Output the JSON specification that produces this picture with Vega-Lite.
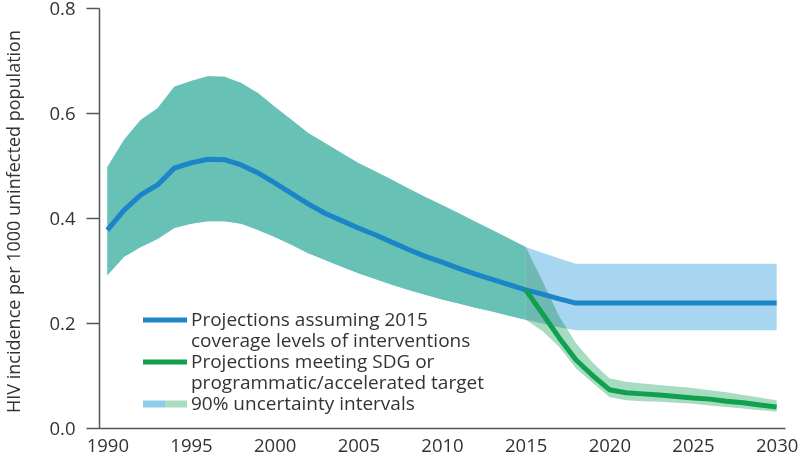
{
  "$schema": "https://vega.github.io/schema/vega-lite/v6.json",
  "width": 686,
  "height": 420,
  "autosize": {"type": "none"},
  "padding": {"left": 99, "top": 8, "right": 15, "bottom": 28},
  "background": "white",
  "config": {
    "view": {"stroke": null},
    "font": "Open Sans",
    "axis": {"grid": false, "domainColor": "#555", "domainWidth": 1.5, "tickColor": "#555", "tickWidth": 1.5, "labelColor": "#333", "titleColor": "#333", "labelFont": "Open Sans", "titleFont": "Open Sans", "labelFontSize": 18.5, "titleFontWeight": "normal"}
  },
  "datasets": {
    "proj": [
      {"year": 1990, "series": "current", "lo": 0.291, "hi": 0.497, "mid": 0.377},
      {"year": 1991, "series": "current", "lo": 0.326, "hi": 0.549, "mid": 0.415},
      {"year": 1992, "series": "current", "lo": 0.345, "hi": 0.587, "mid": 0.444},
      {"year": 1993, "series": "current", "lo": 0.360, "hi": 0.609, "mid": 0.463},
      {"year": 1994, "series": "current", "lo": 0.381, "hi": 0.650, "mid": 0.495},
      {"year": 1995, "series": "current", "lo": 0.389, "hi": 0.661, "mid": 0.505},
      {"year": 1996, "series": "current", "lo": 0.394, "hi": 0.670, "mid": 0.512},
      {"year": 1997, "series": "current", "lo": 0.394, "hi": 0.669, "mid": 0.511},
      {"year": 1998, "series": "current", "lo": 0.389, "hi": 0.657, "mid": 0.501},
      {"year": 1999, "series": "current", "lo": 0.377, "hi": 0.638, "mid": 0.486},
      {"year": 2000, "series": "current", "lo": 0.364, "hi": 0.612, "mid": 0.467},
      {"year": 2001, "series": "current", "lo": 0.349, "hi": 0.587, "mid": 0.447},
      {"year": 2002, "series": "current", "lo": 0.333, "hi": 0.562, "mid": 0.427},
      {"year": 2003, "series": "current", "lo": 0.320, "hi": 0.543, "mid": 0.409},
      {"year": 2004, "series": "current", "lo": 0.307, "hi": 0.524, "mid": 0.395},
      {"year": 2005, "series": "current", "lo": 0.295, "hi": 0.505, "mid": 0.381},
      {"year": 2006, "series": "current", "lo": 0.284, "hi": 0.489, "mid": 0.368},
      {"year": 2007, "series": "current", "lo": 0.273, "hi": 0.473, "mid": 0.354},
      {"year": 2008, "series": "current", "lo": 0.263, "hi": 0.456, "mid": 0.340},
      {"year": 2009, "series": "current", "lo": 0.254, "hi": 0.440, "mid": 0.327},
      {"year": 2010, "series": "current", "lo": 0.245, "hi": 0.425, "mid": 0.316},
      {"year": 2011, "series": "current", "lo": 0.237, "hi": 0.409, "mid": 0.304},
      {"year": 2012, "series": "current", "lo": 0.229, "hi": 0.393, "mid": 0.293},
      {"year": 2013, "series": "current", "lo": 0.222, "hi": 0.377, "mid": 0.283},
      {"year": 2014, "series": "current", "lo": 0.214, "hi": 0.361, "mid": 0.273},
      {"year": 2015, "series": "current", "lo": 0.206, "hi": 0.345, "mid": 0.263},
      {"year": 2016, "series": "current", "lo": 0.199, "hi": 0.334, "mid": 0.255},
      {"year": 2017, "series": "current", "lo": 0.192, "hi": 0.323, "mid": 0.246},
      {"year": 2018, "series": "current", "lo": 0.186, "hi": 0.313, "mid": 0.238},
      {"year": 2030, "series": "current", "lo": 0.186, "hi": 0.313, "mid": 0.238},
      {"year": 2015, "series": "target", "lo": 0.206, "hi": 0.345, "mid": 0.263},
      {"year": 2016, "series": "target", "lo": 0.185, "hi": 0.280, "mid": 0.218},
      {"year": 2017, "series": "target", "lo": 0.155, "hi": 0.213, "mid": 0.172},
      {"year": 2018, "series": "target", "lo": 0.114, "hi": 0.162, "mid": 0.130},
      {"year": 2019, "series": "target", "lo": 0.086, "hi": 0.125, "mid": 0.100},
      {"year": 2020, "series": "target", "lo": 0.059, "hi": 0.095, "mid": 0.073},
      {"year": 2021, "series": "target", "lo": 0.053, "hi": 0.088, "mid": 0.067},
      {"year": 2022, "series": "target", "lo": 0.051, "hi": 0.085, "mid": 0.065},
      {"year": 2023, "series": "target", "lo": 0.050, "hi": 0.082, "mid": 0.063},
      {"year": 2024, "series": "target", "lo": 0.048, "hi": 0.079, "mid": 0.060},
      {"year": 2025, "series": "target", "lo": 0.046, "hi": 0.076, "mid": 0.057},
      {"year": 2026, "series": "target", "lo": 0.043, "hi": 0.072, "mid": 0.055},
      {"year": 2027, "series": "target", "lo": 0.040, "hi": 0.068, "mid": 0.051},
      {"year": 2028, "series": "target", "lo": 0.037, "hi": 0.063, "mid": 0.048},
      {"year": 2029, "series": "target", "lo": 0.034, "hi": 0.058, "mid": 0.044},
      {"year": 2030, "series": "target", "lo": 0.031, "hi": 0.053, "mid": 0.040}
    ]
  },
  "data": {"name": "proj"},
  "encoding": {
    "x": {"field": "year", "type": "quantitative", "scale": {"domain": [1989.5, 2030.5], "nice": false, "zero": false},
      "axis": {"title": null, "values": [1990, 1995, 2000, 2005, 2010, 2015, 2020, 2025, 2030], "format": "d", "ticks": false, "labelPadding": 8, "labelFlush": false}},
    "y": {"type": "quantitative", "scale": {"domain": [0, 0.8], "nice": false},
      "axis": {"title": "HIV incidence per 1000 uninfected population", "titleFontSize": 18, "values": [0, 0.2, 0.4, 0.6, 0.8], "format": ".1f", "tickSize": 13, "labelPadding": 11, "titleAngle": -90, "titleX": -85, "titleY": 213, "titleAlign": "center", "titleBaseline": "middle"}}
  },
  "layer": [
    {"transform": [{"filter": "datum.series == 'current'"}],
     "mark": {"type": "area", "color": "#a8d5ef", "opacity": 1},
     "encoding": {"y": {"field": "hi", "type": "quantitative"}, "y2": {"field": "lo"}}},
    {"transform": [{"filter": "datum.series == 'target'"}],
     "mark": {"type": "area", "color": "#a8dcc0", "opacity": 1, "blend": "multiply"},
     "encoding": {"y": {"field": "hi", "type": "quantitative"}, "y2": {"field": "lo"}}},
    {"transform": [{"filter": "datum.series == 'current' && datum.year <= 2015"}],
     "mark": {"type": "area", "color": "#67c1b5", "opacity": 1},
     "encoding": {"y": {"field": "hi", "type": "quantitative"}, "y2": {"field": "lo"}}},
    {"mark": {"type": "line", "strokeWidth": 5, "strokeCap": "butt", "strokeJoin": "round"},
     "encoding": {
       "y": {"field": "mid", "type": "quantitative"},
       "color": {"field": "series", "type": "nominal",
         "scale": {"domain": ["current", "current_2", "target", "target_2", "uncertainty"], "range": ["#1b85c7", "#ffffff", "#11a04f", "#ffffff", "#a8d5ef"]},
         "legend": {
           "orient": "none", "legendX": 55, "legendY": 301, "title": null,
           "direction": "vertical",
           "symbolType": "M-2,-0.22H2V0.22H-2Z",
           "symbolSize": 484,
           "symbolStrokeWidth": 0,
           "labelFont": "Open Sans", "labelFontSize": 19, "labelColor": "#333", "labelLimit": 500, "labelOffset": 15,
           "rowPadding": -0.5,
           "labelExpr": "datum.value == 'current' ? 'Projections assuming 2015' : datum.value == 'current_2' ? 'coverage levels of interventions' : datum.value == 'target' ? 'Projections meeting SDG or' : datum.value == 'target_2' ? 'programmatic/accelerated target' : '90% uncertainty intervals'",
           "encode": {
             "symbols": {"update": {
               "fill": [
                 {"test": "datum.value == 'uncertainty'", "value": {"gradient": "linear", "x1": 0, "y1": 0, "x2": 1, "y2": 0, "stops": [{"offset": 0, "color": "#8ecbec"}, {"offset": 0.5, "color": "#8ecbec"}, {"offset": 0.5, "color": "#a8dcc0"}, {"offset": 1, "color": "#a8dcc0"}]}},
                 {"test": "datum.value == 'current_2' || datum.value == 'target_2'", "value": "transparent"},
                 {"scale": "color", "field": "value"}],
               "shape": [{"test": "datum.value == 'uncertainty'", "value": "M-2,-0.32H2V0.32H-2Z"}, {"value": "M-2,-0.22H2V0.22H-2Z"}],
               "strokeWidth": {"value": 0},
               "opacity": {"value": 1}
             }}
           }
         }}
     }}
  ]
}
